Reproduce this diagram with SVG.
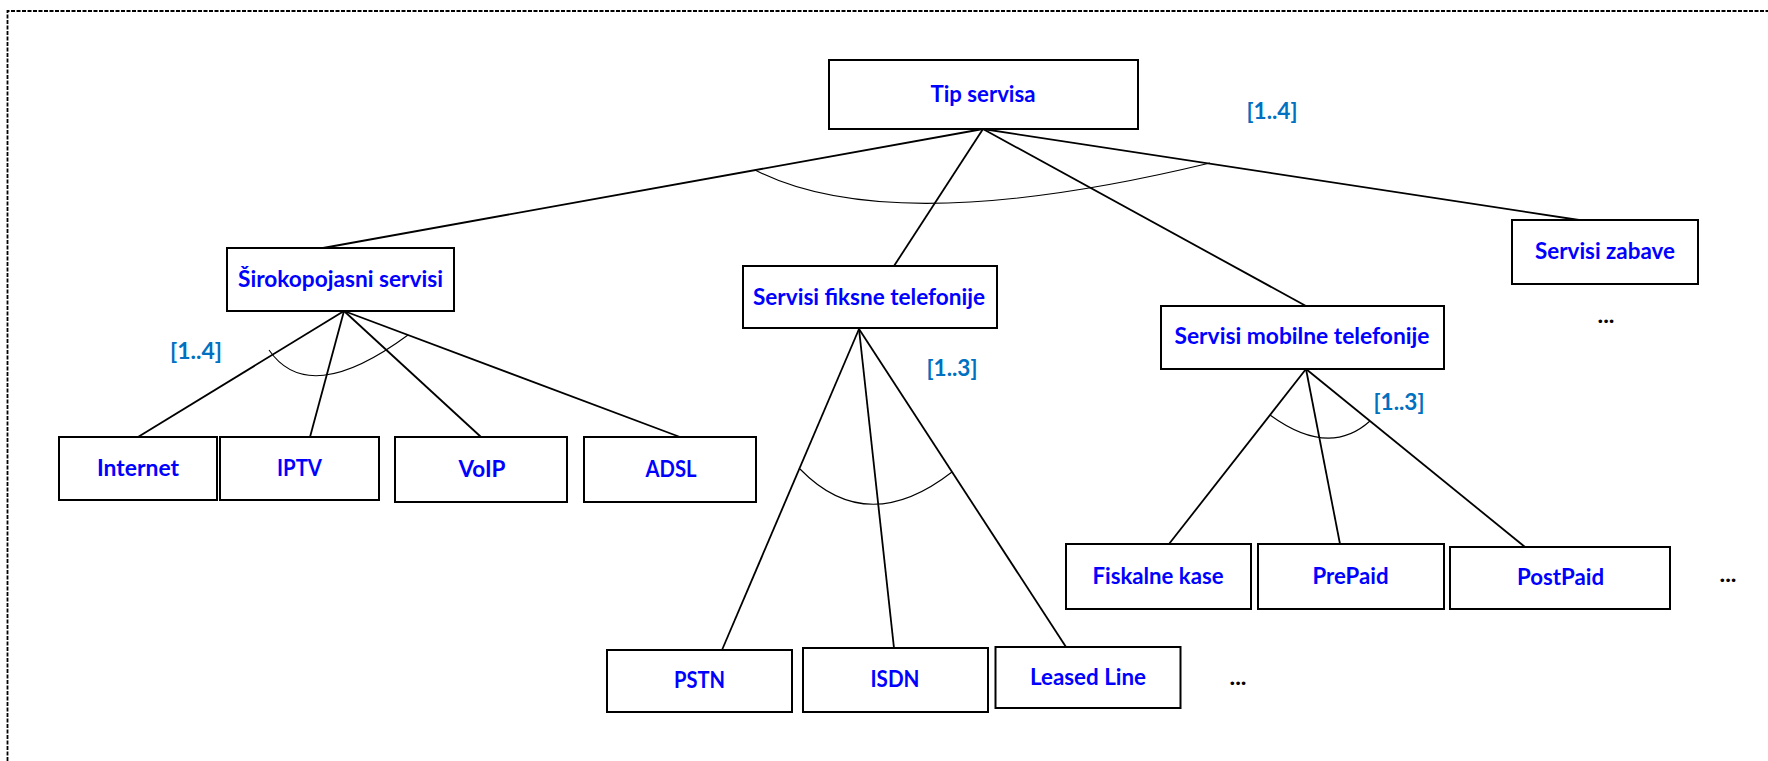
<svg xmlns="http://www.w3.org/2000/svg" width="1768" height="761" viewBox="0 0 1768 761">
<style>
.box{fill:#fff;stroke:#000;stroke-width:2}
.t{font-family:Lato,"Liberation Sans",sans-serif;font-weight:bold;font-size:23px;fill:#0000FF;text-anchor:middle}
.c{font-family:Lato,"Liberation Sans",sans-serif;font-weight:bold;font-size:23px;fill:#0070C0;text-anchor:middle}
.d{font-family:Lato,"Liberation Sans",sans-serif;font-weight:bold;font-size:23px;fill:#000;text-anchor:middle}
.ln{stroke:#000;stroke-width:1.8;fill:none}
.arc{stroke:#000;stroke-width:1.1;fill:none}
</style>
<rect width="1768" height="761" fill="#fff"/>
<path d="M7.5,761 V11 H1768" fill="none" stroke="#000" stroke-width="1.8" stroke-dasharray="4 1.5"/>

<g id="connectors">
<line class="ln" x1="983" y1="129" x2="323" y2="248"/>
<line class="ln" x1="983" y1="129" x2="894" y2="266"/>
<line class="ln" x1="983" y1="129" x2="1306" y2="306"/>
<line class="ln" x1="983" y1="129" x2="1579" y2="220"/>
<path class="arc" d="M755,170 Q891,240 1210,163"/>

<line class="ln" x1="344" y1="311" x2="138" y2="437"/>
<line class="ln" x1="344" y1="311" x2="310" y2="437"/>
<line class="ln" x1="344" y1="311" x2="481" y2="437"/>
<line class="ln" x1="344" y1="311" x2="680" y2="437"/>
<path class="arc" d="M269,350 Q309,408 408,335"/>

<line class="ln" x1="859" y1="329" x2="722" y2="650"/>
<line class="ln" x1="859" y1="329" x2="894" y2="648"/>
<line class="ln" x1="859" y1="329" x2="1066" y2="647"/>
<path class="arc" d="M800,469 Q867,538 952,472"/>

<line class="ln" x1="1306" y1="369" x2="1169" y2="544"/>
<line class="ln" x1="1306" y1="369" x2="1340" y2="544"/>
<line class="ln" x1="1306" y1="369" x2="1525" y2="547"/>
<path class="arc" d="M1270,415 Q1329,458 1370,421"/>
</g>

<g id="labels">
<text class="c" x="1272" y="119" textLength="51" lengthAdjust="spacingAndGlyphs">[1..4]</text>
<text class="c" x="196" y="359" textLength="52" lengthAdjust="spacingAndGlyphs">[1..4]</text>
<text class="c" x="952" y="376" textLength="51" lengthAdjust="spacingAndGlyphs">[1..3]</text>
<text class="c" x="1399" y="410" textLength="51" lengthAdjust="spacingAndGlyphs">[1..3]</text>
<text class="d" x="1606" y="323" textLength="17" lengthAdjust="spacingAndGlyphs">...</text>
<text class="d" x="1728" y="582" textLength="17" lengthAdjust="spacingAndGlyphs">...</text>
<text class="d" x="1238" y="685" textLength="17" lengthAdjust="spacingAndGlyphs">...</text>
</g>

<g id="tip-servisa"><rect class="box" x="829" y="60" width="309" height="69"/><text class="t" x="983" y="102" textLength="105" lengthAdjust="spacingAndGlyphs">Tip servisa</text></g>
<g id="sirokopojasni"><rect class="box" x="227" y="248" width="227" height="63"/><text class="t" x="340.5" y="287" textLength="205" lengthAdjust="spacingAndGlyphs">Širokopojasni servisi</text></g>
<g id="fiksne"><rect class="box" x="743" y="266" width="254" height="62"/><text class="t" x="869" y="305" textLength="232" lengthAdjust="spacingAndGlyphs">Servisi fiksne telefonije</text></g>
<g id="mobilne"><rect class="box" x="1161" y="306" width="283" height="63"/><text class="t" x="1302" y="344" textLength="255" lengthAdjust="spacingAndGlyphs">Servisi mobilne telefonije</text></g>
<g id="zabave"><rect class="box" x="1512" y="220" width="186" height="64"/><text class="t" x="1605" y="259" textLength="140" lengthAdjust="spacingAndGlyphs">Servisi zabave</text></g>

<g id="internet"><rect class="box" x="59" y="437" width="158" height="63"/><text class="t" x="138" y="476" textLength="82" lengthAdjust="spacingAndGlyphs">Internet</text></g>
<g id="iptv"><rect class="box" x="220" y="437" width="159" height="63"/><text class="t" x="299.5" y="476" textLength="45" lengthAdjust="spacingAndGlyphs">IPTV</text></g>
<g id="voip"><rect class="box" x="395" y="437" width="172" height="65"/><text class="t" x="482" y="477" textLength="47" lengthAdjust="spacingAndGlyphs">VoIP</text></g>
<g id="adsl"><rect class="box" x="584" y="437" width="172" height="65"/><text class="t" x="671" y="477" textLength="51" lengthAdjust="spacingAndGlyphs">ADSL</text></g>

<g id="pstn"><rect class="box" x="607" y="650" width="185" height="62"/><text class="t" x="699.5" y="688" textLength="51" lengthAdjust="spacingAndGlyphs">PSTN</text></g>
<g id="isdn"><rect class="box" x="803" y="648" width="185" height="64"/><text class="t" x="895" y="687" textLength="49" lengthAdjust="spacingAndGlyphs">ISDN</text></g>
<g id="leased-line"><rect class="box" x="995.5" y="647" width="185" height="61"/><text class="t" x="1088" y="685" textLength="116" lengthAdjust="spacingAndGlyphs">Leased Line</text></g>

<g id="fiskalne-kase"><rect class="box" x="1066" y="544" width="185" height="65"/><text class="t" x="1158" y="584" textLength="131" lengthAdjust="spacingAndGlyphs">Fiskalne kase</text></g>
<g id="prepaid"><rect class="box" x="1258" y="544" width="186" height="65"/><text class="t" x="1350.5" y="584" textLength="76" lengthAdjust="spacingAndGlyphs">PrePaid</text></g>
<g id="postpaid"><rect class="box" x="1450" y="547" width="220" height="62"/><text class="t" x="1560.5" y="585" textLength="87" lengthAdjust="spacingAndGlyphs">PostPaid</text></g>
</svg>
